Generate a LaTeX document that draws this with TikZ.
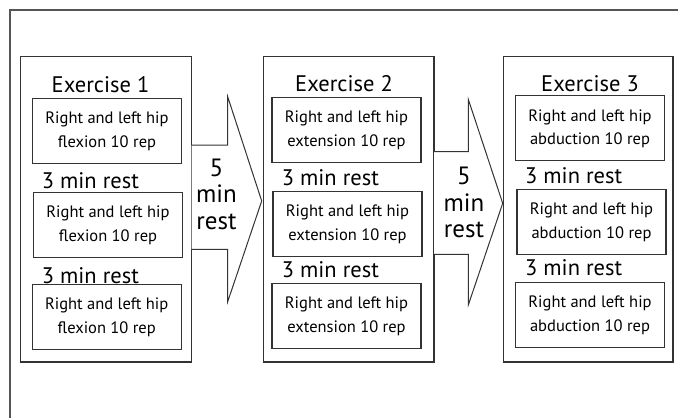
\documentclass[tikz,border=0pt]{standalone}
\usepackage{fontspec}
\setmainfont{PT Sans}
\definecolor{ln}{HTML}{333333}
\definecolor{fr}{HTML}{555555}
\newcommand{\twolines}[2]{\raisebox{-3pt}{\begin{tabular}{@{}c@{}}#1\\#2\end{tabular}}}
\begin{document}
\begin{tikzpicture}[x=1pt,y=-1pt,
  exbox/.style={draw=ln,line width=1.3pt,rectangle,inner sep=0pt},
  stepbox/.style={draw=ln,line width=1.2pt,rectangle,inner sep=0pt,minimum width=149pt,minimum height=65pt,font=\fontsize{16.5}{23.5}\selectfont},
  title/.style={font=\fontsize{22.5}{24}\selectfont,inner sep=0pt},
  rest/.style={font=\fontsize{22.5}{24}\selectfont,inner sep=0pt,anchor=base west},
  arr/.style={draw=ln,line width=1.0pt,fill=white,line join=miter},
  arrtxt/.style={align=center,font=\fontsize{25}{26.5}\selectfont,inner sep=0pt}]
\useasboundingbox (0,0) rectangle (678,418);
\draw[fr,line width=1.2pt] (678,10) -- (10,10) -- (10,418);
% exercise boxes
\node[exbox,minimum width=171pt,minimum height=305.5pt] (e1) at (106.2,209.2) {};
\node[exbox,minimum width=170.7pt,minimum height=305.5pt] (e2) at (348.7,209.2) {};
\node[exbox,minimum width=169.7pt,minimum height=305.5pt] (e3) at (588.2,209.2) {};
% arrows
\draw[arr] (191.7,145) -- (227.7,145) -- (227.7,96.7) -- (261.7,201) -- (227.7,301.7) -- (227.7,249.3) -- (191.7,249.3);
\draw[arr] (434,151.7) -- (468.3,151.7) -- (468.3,99.3) -- (502.7,203.3) -- (468.3,305) -- (468.3,254.3) -- (434,254.3);
\node[arrtxt] (a1) at (216.5,194) {5\\min\\rest};
\node[arrtxt] (a2) at (464,202.5) {5\\min\\rest};
% titles
\node[title] (t1) at (100.5,85) {Exercise 1};
\node[title] (t2) at (344,84) {Exercise 2};
\node[title] (t3) at (590,84) {Exercise 3};
% exercise 1
\node[stepbox] (b11) at (107,130.8) {\twolines{Right and left hip}{flexion 10 rep}};
\node[stepbox] (b12) at (108,224.8) {\twolines{Right and left hip}{flexion 10 rep}};
\node[stepbox] (b13) at (106.7,316.8) {\twolines{Right and left hip}{flexion 10 rep}};
\node[rest] (r11) at (41.7,188.5) {3 min rest};
\node[rest] (r12) at (41.7,283.5) {3 min rest};
% exercise 2
\node[stepbox] (b21) at (346.5,129.8) {\twolines{Right and left hip}{extension 10 rep}};
\node[stepbox] (b22) at (347.5,223.7) {\twolines{Right and left hip}{extension 10 rep}};
\node[stepbox] (b23) at (346.5,315.8) {\twolines{Right and left hip}{extension 10 rep}};
\node[rest] (r21) at (281.7,185) {3 min rest};
\node[rest] (r22) at (281.7,277) {3 min rest};
% exercise 3
\node[stepbox] (b31) at (590,128.3) {\twolines{Right and left hip}{abduction 10 rep}};
\node[stepbox] (b32) at (591.5,222) {\twolines{Right and left hip}{abduction 10 rep}};
\node[stepbox] (b33) at (590,314.7) {\twolines{Right and left hip}{abduction 10 rep}};
\node[rest] (r31) at (525,183.5) {3 min rest};
\node[rest] (r32) at (525,275.3) {3 min rest};
\end{tikzpicture}
\end{document}
